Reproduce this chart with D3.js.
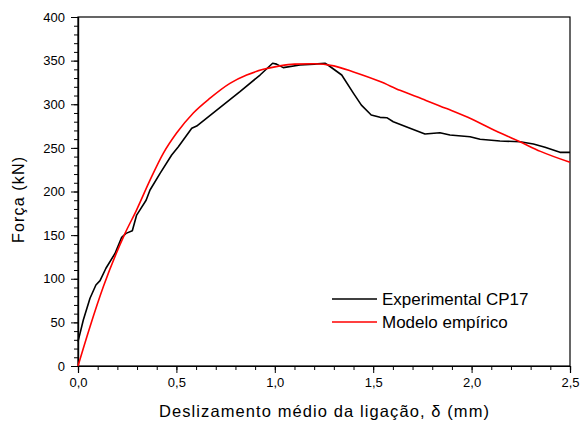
<!DOCTYPE html>
<html><head><meta charset="utf-8">
<script src="https://cdn.jsdelivr.net/npm/d3@7"></script>
<style>body{margin:0;background:#fff}svg{display:block}text{font-family:"Liberation Sans",Arial,sans-serif;fill:#000}</style>
</head><body><svg id="c" width="580" height="426"></svg>
<script>
const expX = [0,0.027,0.061,0.091,0.112,0.142,0.188,0.222,0.244,0.276,0.298,0.315,0.346,0.366,0.417,0.476,0.51,0.578,0.603,0.705,0.823,0.925,0.989,1.009,1.043,1.128,1.2,1.255,1.27,1.34,1.4,1.44,1.49,1.535,1.569,1.602,1.687,1.763,1.839,1.89,1.992,2.043,2.144,2.246,2.314,2.373,2.449,2.5];
const expY = [28,52.7,77.6,92.8,97.8,112,129,147.5,152,155,173,179,190,201.7,220.8,241.8,251.3,272.4,275,293.4,314.4,333.5,347,346,342,345,346,347,345,333.5,312.5,299,287.7,285,284.6,280,272.4,265.9,267.4,264.8,262.8,259.8,257.9,257.1,254.4,250.6,244.9,244.9];
const modX = [0,0.061,0.129,0.239,0.298,0.366,0.434,0.501,0.586,0.671,0.772,0.857,0.942,1.026,1.1,1.2,1.3,1.4,1.535,1.636,1.75,1.873,2.0,2.1,2.246,2.35,2.5];
const modY = [0,45,91,152,179,213,244,267,290,307,324,333.5,340,344,346,346.5,344,337,326,316,306,295,283,272,257,246,233.5];
const xTicks = [0,0.5,1.0,1.5,2.0,2.5];
const yTicks = [0,50,100,150,200,250,300,350,400];
const seriesNames = ["Experimental CP17","Modelo empírico"];
const seriesColors = ["#000000","#ff0000"];

const svg = d3.select("#c");
const L=78,R=570,T=17,B=366;
const x = d3.scaleLinear().domain([0,2.5]).range([L,R]);
const y = d3.scaleLinear().domain([0,400]).range([B,T]);
const fmt = d=>d3.format(".1f")(d).replace(".",",");

// frame
svg.append("rect").attr("x",L).attr("y",T).attr("width",R-L).attr("height",B-T).attr("fill","none").attr("stroke","#000").attr("stroke-width",1.2);

// x axis
const xMinor = d3.range(0,2.5001,0.1);
const xa = svg.append("g").attr("transform",`translate(0,${B})`);
xa.call(d3.axisBottom(x).tickValues(xMinor).tickSize(4).tickFormat(""));
xa.append("g").call(d3.axisBottom(x).tickValues(xTicks).tickSize(7).tickFormat(fmt).tickPadding(5));
xa.selectAll(".domain").attr("stroke-width",1.2);
xa.selectAll("text").attr("font-size",13).attr("font-family","Liberation Sans, Arial, sans-serif");
xa.selectAll("line").attr("stroke-width",1);

// y axis
const yMinor = d3.range(0,400.1,10);
const ya = svg.append("g").attr("transform",`translate(${L},0)`);
ya.call(d3.axisLeft(y).tickValues(yMinor).tickSize(4).tickFormat(""));
ya.append("g").call(d3.axisLeft(y).tickValues(yTicks).tickSize(7).tickPadding(6));
ya.selectAll(".domain").attr("stroke-width",1.2);
ya.selectAll("text").attr("font-size",13).attr("font-family","Liberation Sans, Arial, sans-serif");

// lines
const expData = expX.map((d,i)=>[d,expY[i]]);
const modData = modX.map((d,i)=>[d,modY[i]]);
svg.append("path").datum(expData).attr("fill","none").attr("stroke",seriesColors[0]).attr("stroke-width",1.6)
  .attr("stroke-linejoin","round").attr("d",d3.line().x(d=>x(d[0])).y(d=>y(d[1])));
svg.append("path").datum(modData).attr("fill","none").attr("stroke",seriesColors[1]).attr("stroke-width",1.6)
  .attr("d",d3.line().curve(d3.curveMonotoneX).x(d=>x(d[0])).y(d=>y(d[1])));

// titles
svg.append("text").attr("x",324).attr("y",417).attr("text-anchor","middle").attr("font-size",16.5)
  .attr("textLength",330).attr("lengthAdjust","spacing").text("Deslizamento médio da ligação, δ (mm)");
svg.append("text").attr("transform",`translate(24,200) rotate(-90)`).attr("text-anchor","middle").attr("font-size",16)
  .attr("textLength",86).attr("lengthAdjust","spacing").text("Força (kN)");

// legend
seriesNames.forEach((n,i)=>{
  const yy = 299 + i*23;
  svg.append("line").attr("x1",332).attr("x2",377).attr("y1",yy).attr("y2",yy).attr("stroke",seriesColors[i]).attr("stroke-width",1.6);
  svg.append("text").attr("x",382).attr("y",yy+6).attr("font-size",17).text(n);
});
</script></body></html>
